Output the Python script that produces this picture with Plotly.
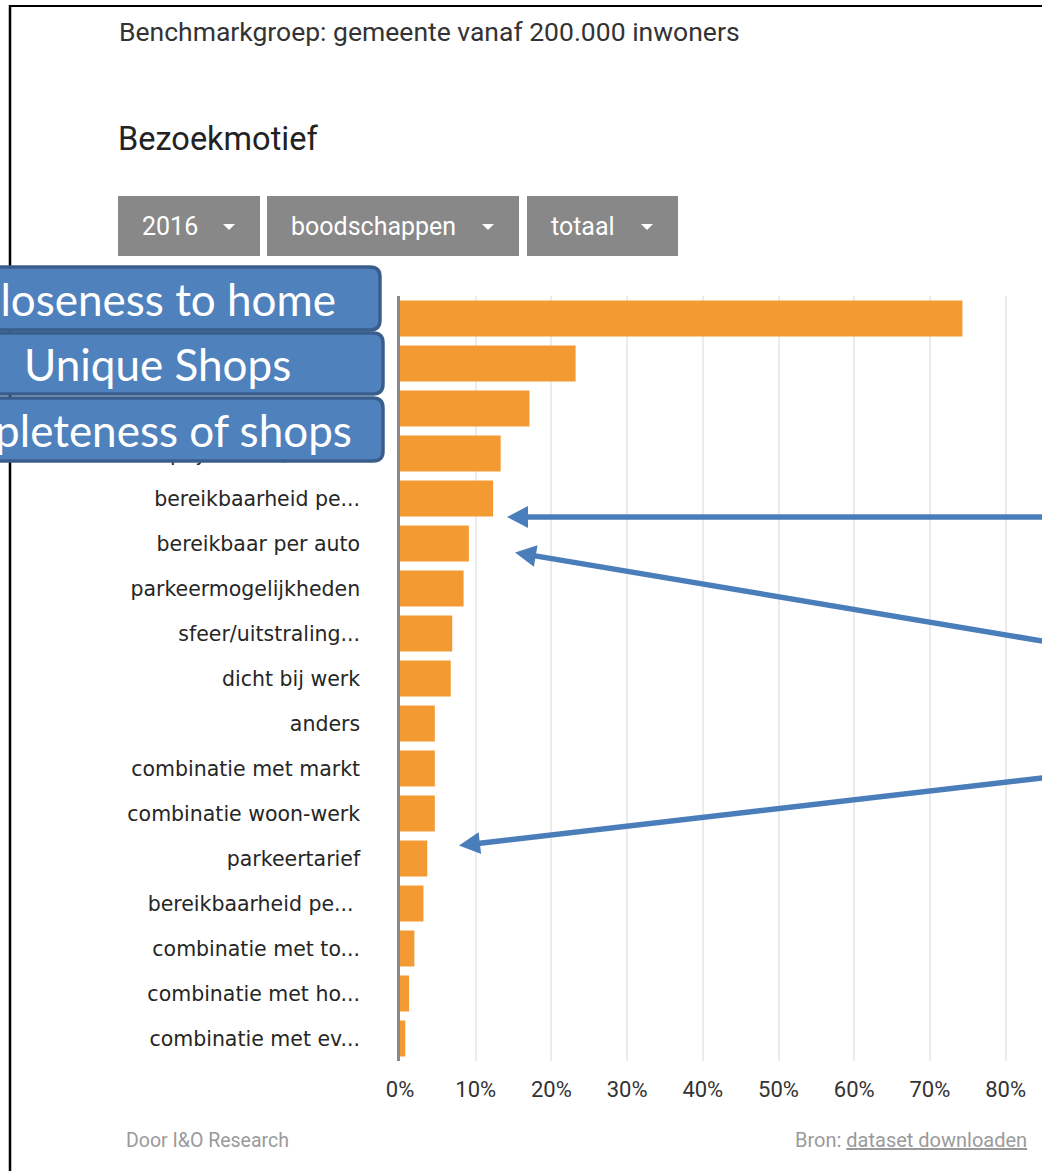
import plotly.graph_objects as go

# --- data -------------------------------------------------------------
motieven = [
    "dicht bij huis",
    "specifieke winkels",
    "compleet winkelaanbod",
    "prijsniveau/aanb...",
    "bereikbaarheid pe...",
    "bereikbaar per auto",
    "parkeermogelijkheden",
    "sfeer/uitstraling...",
    "dicht bij werk",
    "anders",
    "combinatie met markt",
    "combinatie woon-werk",
    "parkeertarief",
    "bereikbaarheid pe... ",
    "combinatie met to...",
    "combinatie met ho...",
    "combinatie met ev...",
]
aandeel = [74.3, 23.2, 17.1, 13.3, 12.3, 9.1, 8.4, 6.9, 6.7,
           4.6, 4.6, 4.6, 3.6, 3.1, 1.9, 1.2, 0.7]
x_ticks = [0, 10, 20, 30, 40, 50, 60, 70, 80]
x_ticktext = [f"{v}%" for v in x_ticks]

callouts = ["Closeness to home", "Unique Shops", "Completeness of shops"]
filters = ["2016", "boodschappen", "totaal"]

# --- page geometry ------------------------------------------------------
W, H = 1042, 1171
L, R, T, B = 400, 0, 296, 110
PW, PH = W - L - R, H - T - B
PX_PER_PCT = 7.57


def px(x):
    return (x - L) / PW


def py(y):
    return 1 - (y - T) / PH


BAR = "#F39A33"
BLUE = "#4F81BD"
BLUE_EDGE = "#3A5E8C"
ARROW = "#4A7EBB"

fig = go.Figure(go.Bar(
    x=aandeel,
    y=motieven,
    orientation="h",
    marker=dict(color=BAR, line=dict(width=0)),
    width=0.8,
    hoverinfo="skip",
))

fig.update_layout(
    width=W, height=H,
    margin=dict(l=L, r=R, t=T, b=B, pad=0),
    paper_bgcolor="white",
    plot_bgcolor="white",
    showlegend=False,
    font=dict(family="Roboto", color="#333"),
)

fig.update_xaxes(
    range=[0, PW / PX_PER_PCT],
    tickvals=x_ticks,
    ticktext=x_ticktext,
    showgrid=True, gridcolor="#ebebeb", gridwidth=2,
    zeroline=False,
    ticks="", ticklabelstandoff=13,
    tickfont=dict(family="Roboto", size=22, color="#333"),
)
fig.update_yaxes(
    categoryorder="array", categoryarray=motieven,
    autorange="reversed",
    showline=True, linecolor="#8a8a8a", linewidth=2.5,
    showgrid=False, zeroline=False,
    ticks="", ticklabelstandoff=33,
    tickfont=dict(family="DejaVu Sans", size=20.5, color="#262626"),
)

shapes = []
annotations = []

# frame lines at the top and left
shapes.append(dict(type="line", xref="paper", yref="paper",
                   x0=px(10), x1=px(W + 5), y0=py(6), y1=py(6),
                   line=dict(color="black", width=2)))
shapes.append(dict(type="line", xref="paper", yref="paper",
                   x0=px(10), x1=px(10), y0=py(5), y1=py(H + 5),
                   line=dict(color="black", width=2.5)))

# header texts
annotations.append(dict(xref="paper", yref="paper", x=px(117), y=py(32),
                        xanchor="left", yanchor="middle", showarrow=False,
                        text="Benchmarkgroep: gemeente vanaf 200.000 inwoners",
                        font=dict(family="Roboto", size=26.5, color="#333")))
annotations.append(dict(xref="paper", yref="paper", x=px(116), y=py(139),
                        xanchor="left", yanchor="middle", showarrow=False,
                        text="Bezoekmotief",
                        font=dict(family="Roboto", size=32.5, color="#222")))

# filter buttons (dropdown look)
buttons = [(118, 260), (267, 519), (527, 678)]
for (bx0, bx1), label in zip(buttons, filters):
    shapes.append(dict(type="rect", xref="paper", yref="paper",
                       x0=px(bx0), x1=px(bx1), y0=py(196), y1=py(256),
                       fillcolor="#888888", line=dict(width=0)))
    annotations.append(dict(xref="paper", yref="paper", x=px(bx0 + 22), y=py(226),
                            xanchor="left", yanchor="middle", showarrow=False,
                            text=label,
                            font=dict(family="Roboto", size=25, color="white")))
    cx = bx1 - 31
    path = (f"M {px(cx - 6)} {py(224)} L {px(cx + 6)} {py(224)} "
            f"L {px(cx)} {py(230)} Z")
    shapes.append(dict(type="path", xref="paper", yref="paper", path=path,
                       fillcolor="white", line=dict(width=0)))


def rounded_rect(x0, y0, x1, y1, r):
    return (f"M {px(x0 + r)} {py(y0)} L {px(x1 - r)} {py(y0)} "
            f"Q {px(x1)} {py(y0)} {px(x1)} {py(y0 + r)} "
            f"L {px(x1)} {py(y1 - r)} "
            f"Q {px(x1)} {py(y1)} {px(x1 - r)} {py(y1)} "
            f"L {px(x0 + r)} {py(y1)} "
            f"Q {px(x0)} {py(y1)} {px(x0)} {py(y1 - r)} "
            f"L {px(x0)} {py(y0 + r)} "
            f"Q {px(x0)} {py(y0)} {px(x0 + r)} {py(y0)} Z")


# callout boxes over the top three categories
boxes = [(-70, 267, 380, 330), (-70, 333, 383, 394), (-70, 398, 383, 461)]
text_right = [338, 293, 354]
for (bx0, by0, bx1, by1), label, tr in zip(boxes, callouts, text_right):
    shapes.append(dict(type="path", xref="paper", yref="paper",
                       path=rounded_rect(bx0, by0, bx1, by1, 10),
                       fillcolor=BLUE, line=dict(color=BLUE_EDGE, width=3.5),
                       layer="above"))
    annotations.append(dict(xref="paper", yref="paper", x=px(tr), y=py((by0 + by1) / 2),
                            xanchor="right", yanchor="middle", showarrow=False,
                            text=label,
                            font=dict(family="Lato", size=44, color="white")))

# arrows pointing at bars
arrows = [((1100, 517), (507, 517)),
          ((1100, 650.7), (515, 552.5)),
          ((1100, 771.3), (459, 845.6))]
for (tx, ty), (hx, hy) in arrows:
    dx, dy = tx - hx, ty - hy
    n = (dx * dx + dy * dy) ** 0.5
    ux, uy = dx / n, dy / n
    head_len, half_w = 21, 11
    bx, by = hx + ux * head_len, hy + uy * head_len
    shapes.append(dict(type="line", xref="paper", yref="paper",
                       x0=px(tx), y0=py(ty), x1=px(bx - ux * 2), y1=py(by - uy * 2),
                       line=dict(color=ARROW, width=5.5), layer="above"))
    p1 = (bx - uy * half_w, by + ux * half_w)
    p2 = (bx + uy * half_w, by - ux * half_w)
    path = (f"M {px(hx)} {py(hy)} L {px(p1[0])} {py(p1[1])} "
            f"L {px(p2[0])} {py(p2[1])} Z")
    shapes.append(dict(type="path", xref="paper", yref="paper", path=path,
                       fillcolor=ARROW, line=dict(width=0), layer="above"))

# footer
annotations.append(dict(xref="paper", yref="paper", x=px(124), y=py(1140),
                        xanchor="left", yanchor="middle", showarrow=False,
                        text="Door I&O Research",
                        font=dict(family="Roboto", size=19.5, color="#9a9a9a")))
annotations.append(dict(xref="paper", yref="paper", x=px(1029), y=py(1140),
                        xanchor="right", yanchor="middle", showarrow=False,
                        text="Bron: <u>dataset downloaden</u>",
                        font=dict(family="Roboto", size=20, color="#9a9a9a")))

fig.update_layout(shapes=shapes, annotations=annotations)

fig.write_html("out.html")
